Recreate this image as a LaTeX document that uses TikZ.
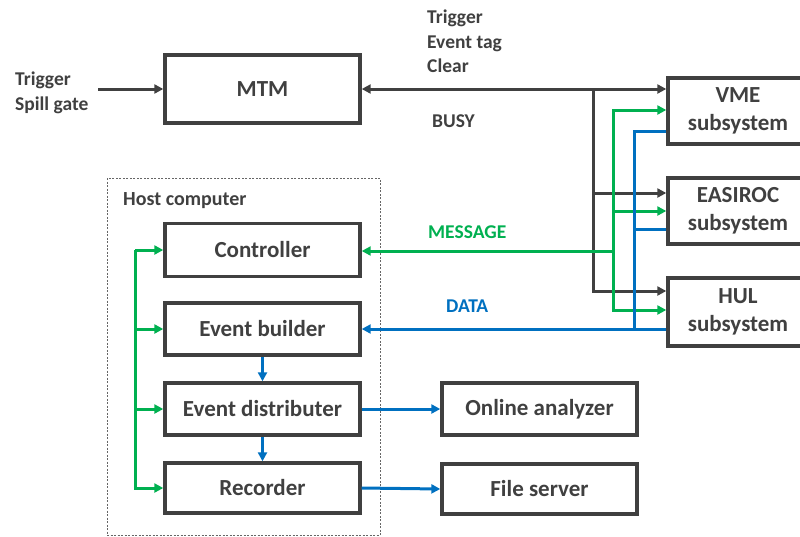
\documentclass[tikz,border=0pt]{standalone}
\usepackage{fontspec}
\setmainfont{Carlito}
\usetikzlibrary{arrows.meta}
\definecolor{dk}{HTML}{404040}
\definecolor{gr}{HTML}{00B050}
\definecolor{bl}{HTML}{0070C0}
\tikzset{
  box/.style={draw=dk, line width=3.4pt, fill=white, text=dk, font=\fontsize{23}{27.5}\selectfont\bfseries, align=center, inner sep=0pt},
  lbl/.style={text=dk, font=\fontsize{19.5}{24}\selectfont\bfseries, anchor=base west, inner sep=0pt},
  tip/.style={-{Triangle[length=9pt,width=9pt]}},
  tips/.style={{Triangle[length=9pt,width=9pt]}-{Triangle[length=9pt,width=9pt]}},
  kline/.style={draw=dk, line width=3pt},
  gline/.style={draw=gr, line width=3pt},
  bline/.style={draw=bl, line width=3pt},
}
\begin{document}
\begin{tikzpicture}[x=1pt,y=-1pt]
\useasboundingbox (0,0) rectangle (800,536);
% host computer frame
\draw[dk!80, line width=0.9pt, dash pattern=on 2pt off 1.5pt] (107,178) rectangle (380,535);
\node[lbl, font=\fontsize{20}{24}\selectfont\bfseries] (host) at (123,205) {Host computer};
% boxes
\node[box, minimum width=195pt, minimum height=68pt] (mtm) at (262.5,89) {MTM};
\node[box, minimum width=140pt, minimum height=66pt] (vme) at (738,111) {VME\\subsystem};
\node[box, minimum width=140pt, minimum height=66pt] (eas) at (738,211) {EASIROC\\subsystem};
\node[box, minimum width=140pt, minimum height=68pt] (hul) at (738,312) {HUL\\subsystem};
\node[box, minimum width=195pt, minimum height=53pt] (ctrl) at (262.5,250) {Controller};
\node[box, minimum width=195pt, minimum height=52pt] (evb) at (262.5,329) {Event builder};
\node[box, minimum width=195pt, minimum height=52pt] (evd) at (262.5,409) {Event distributer};
\node[box, minimum width=195pt, minimum height=50pt] (rec) at (262.5,488) {Recorder};
\node[box, minimum width=195pt, minimum height=52pt] (ona) at (539.5,409) {Online analyzer};
\node[box, minimum width=195pt, minimum height=50pt] (fs) at (539.5,489) {File server};
% labels
\node[lbl] (tin1) at (15,85) {Trigger};
\node[lbl] (tin2) at (15,110) {Spill gate};
\node[lbl] (tout1) at (427,23) {Trigger};
\node[lbl] (tout2) at (427,48) {Event tag};
\node[lbl] (tout3) at (427,72) {Clear};
\node[lbl] (busy) at (432,127) {BUSY};
\node[lbl, text=gr] (msg) at (428,238) {MESSAGE};
\node[lbl, text=bl] (data) at (446,312) {DATA};
% trigger input
\coordinate (tin) at (98,89);
\draw[kline, tip] (tin) -- (mtm.west);
% black bus
\coordinate (k1) at (593,89);
\coordinate (k2) at (593,193);
\coordinate (k3) at (593,291);
\draw[kline, tips] (mtm.east) -- (mtm.east -| vme.west);
\draw[kline, tip] (k1) -- (k3) -- (k3 -| hul.west);
\draw[kline, tip] (k2) -- (k2 -| eas.west);
% green bus
\coordinate (g1) at (613,110);
\coordinate (g2) at (613,211);
\coordinate (g3) at (613,310);
\coordinate (gm) at (613,251);
\draw[gline, tips] (g1 -| vme.west) -- (g1) -- (g3) -- (g3 -| hul.west);
\draw[gline, tip] (g2) -- (g2 -| eas.west);
\draw[gline, tip] (gm) -- (gm -| ctrl.east);
% blue bus
\coordinate (b1) at (634,131);
\coordinate (b2) at (634,229);
\coordinate (b3) at (634,329);
\draw[bline] (b1 -| vme.west) -- (b1) -- (b3);
\draw[bline] (b2 -| eas.west) -- (b2);
\draw[bline, tip] (b3 -| hul.west) -- (evb.east |- b3);
% host internal
\coordinate (h1) at (135,250);
\coordinate (h4) at (135,488);
\draw[gline, tip] (h1) -- (ctrl.west);
\draw[gline, tip] (h1) -- (h4) -- (rec.west);
\draw[gline, tip] (h1 |- evb) -- (evb.west);
\draw[gline, tip] (h1 |- evd) -- (evd.west);
\draw[bline, tip] (evb.south) -- (evd.north);
\draw[bline, tip] (evd.south) -- (rec.north);
\draw[bline, tip] (evd.east) -- (ona.west);
\draw[bline, tip] (rec.east) -- (fs.west);
\end{tikzpicture}
\end{document}
